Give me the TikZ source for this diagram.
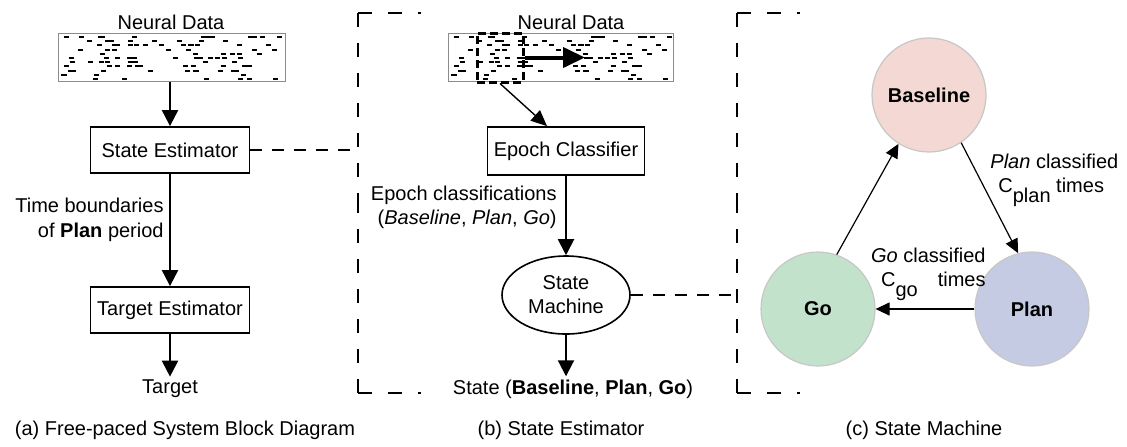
\documentclass[tikz,border=0pt]{standalone}
\usepackage{fontspec}
\setmainfont{Liberation Sans}
\usetikzlibrary{arrows.meta,shapes.geometric,calc}
\definecolor{blfill}{HTML}{F4D8D4}
\definecolor{gofill}{HTML}{C3E2CC}
\definecolor{plfill}{HTML}{C6CBE4}
\begin{document}
\begin{tikzpicture}[x=0.5pt,y=-0.5pt, font=\fontsize{10}{12}\selectfont,
 box/.style={draw, line width=0.9pt, minimum width=79.5pt, minimum height=23pt, inner sep=0pt},
 arr/.style={line width=1pt, -{Triangle[length=8pt,width=8pt]}},
 thinarr/.style={line width=0.6pt, -{Triangle[length=7pt,width=6.5pt]}},
 conn/.style={line width=0.6pt, dash pattern=on 6pt off 5pt},
 bracket/.style={line width=0.6pt, dash pattern=on 7pt off 8pt},
 rasterbox/.style={draw=black!45, line width=0.5pt, minimum width=113.5pt, minimum height=24pt, inner sep=0pt},
 spike/.style={line width=1pt},
 statenode/.style={circle, draw=black!22, line width=0.6pt, minimum size=57pt, inner sep=0pt, font=\fontsize{10}{12}\selectfont\bfseries},
 txt/.style={inner sep=1.5pt}
]
\useasboundingbox (0,0) rectangle (1127,446);

% ---------------- panel (a)
\node[txt] (ndla) at (171,22) {Neural Data};
\node[rasterbox] (nda) at (171.5,57) {};
\pgfmathsetseed{11}
\foreach \k in {1,...,100}{
  \pgfmathsetmacro\rx{61+rnd*218}
  \pgfmathsetmacro\ry{37+floor(rnd*11)*4.2}
  \draw[spike] (\rx,\ry) -- ++(5,0);
}
\node[box] (se) at (170,150) {State Estimator};
\node[box] (te) at (170,310) {Target Estimator};
\node[txt] (tgt) at (170,389) {Target};
\draw[arr] (nda.south -| se.north) -- (se.north);
\draw[arr] (se.south) -- (te.north);
\draw[arr] (te.south) -- (tgt.north);
\node[txt, align=right, anchor=east, font=\fontsize{10}{12.5}\selectfont] (tb) at (167,220) {Time boundaries\\of \textbf{Plan} period};
\node[txt] (capa) at (185,430) {(a) Free-paced System Block Diagram};
\coordinate (bra) at (358,150);
\draw[conn] (se.east) -- (bra);

% ---------------- panel (b)
\draw[bracket] (358,13) -- (421,13);
\draw[bracket] (358,13) -- (358,203);
\draw[bracket] (358,393) -- (421,393);
\draw[bracket] (358,393) -- (358,203);
\node[txt] (ndlb) at (571,22) {Neural Data};
\node[rasterbox, minimum width=112.5pt] (ndb) at (560.5,57) {};
\pgfmathsetseed{11}
\foreach \k in {1,...,100}{
  \pgfmathsetmacro\rx{451+rnd*218}
  \pgfmathsetmacro\ry{37+floor(rnd*11)*4.2}
  \draw[spike] (\rx,\ry) -- ++(5,0);
}
\node[draw, line width=1.5pt, dash pattern=on 4pt off 2pt, minimum width=23pt, minimum height=24.5pt, inner sep=0pt] (win) at (500,57.5) {};
\coordinate (arend) at (585,57.5);
\draw[line width=2pt, -{Triangle[length=11pt,width=10pt]}] (win.east) -- (arend);
\node[box, minimum width=78.5pt, minimum height=24pt] (ec) at (566,151) {Epoch Classifier};
\draw[line width=0.7pt, -{Triangle[length=8pt,width=7pt]}] (win.south) -- ($(ec.north)+(-19,0)$);
\node[ellipse, draw, line width=0.8pt, minimum width=64pt, minimum height=39pt, inner sep=0pt, align=center] (sm) at (566,295) {State\\Machine};
\draw[arr] (ec.south) -- (sm.north);
\node[txt, align=right, anchor=east] (ecl) at (560,207) {Epoch classifications\\(\textit{Baseline}, \textit{Plan}, \textit{Go})};
\node[txt] (stt) at (573,389) {State (\textbf{Baseline}, \textbf{Plan}, \textbf{Go})};
\draw[arr] (sm.south) -- (sm.south |- stt.north);
\coordinate (brc) at (737,295);
\draw[conn] (sm.east) -- (brc);
\node[txt] (capb) at (561,430) {(b) State Estimator};

% ---------------- panel (c)
\draw[bracket] (737,13) -- (800,13);
\draw[bracket] (737,13) -- (737,203);
\draw[bracket] (737,393) -- (800,393);
\draw[bracket] (737,393) -- (737,203);
\node[statenode, fill=blfill] (bl) at (929,95) {Baseline};
\node[statenode, fill=gofill] (go) at (818,309) {Go};
\node[statenode, fill=plfill] (pl) at (1032,309) {Plan};
\draw[thinarr] (bl.-56) -- (pl.104);
\draw[thinarr] (go.71) -- (bl.-122);
\draw[thinarr] (pl.west) -- (go.east);
\node[txt, align=left, anchor=west] (lpl) at (987,180) {\textit{Plan} classified\\\hspace{4pt}C\raisebox{-5pt}{plan} times};
\node[txt, align=right, anchor=east] (lgo) at (989,274) {\textit{Go} classified\\C\raisebox{-5pt}{go}\hspace{10pt}times};
\node[txt] (capc) at (924,430) {(c) State Machine};
\end{tikzpicture}
\end{document}
